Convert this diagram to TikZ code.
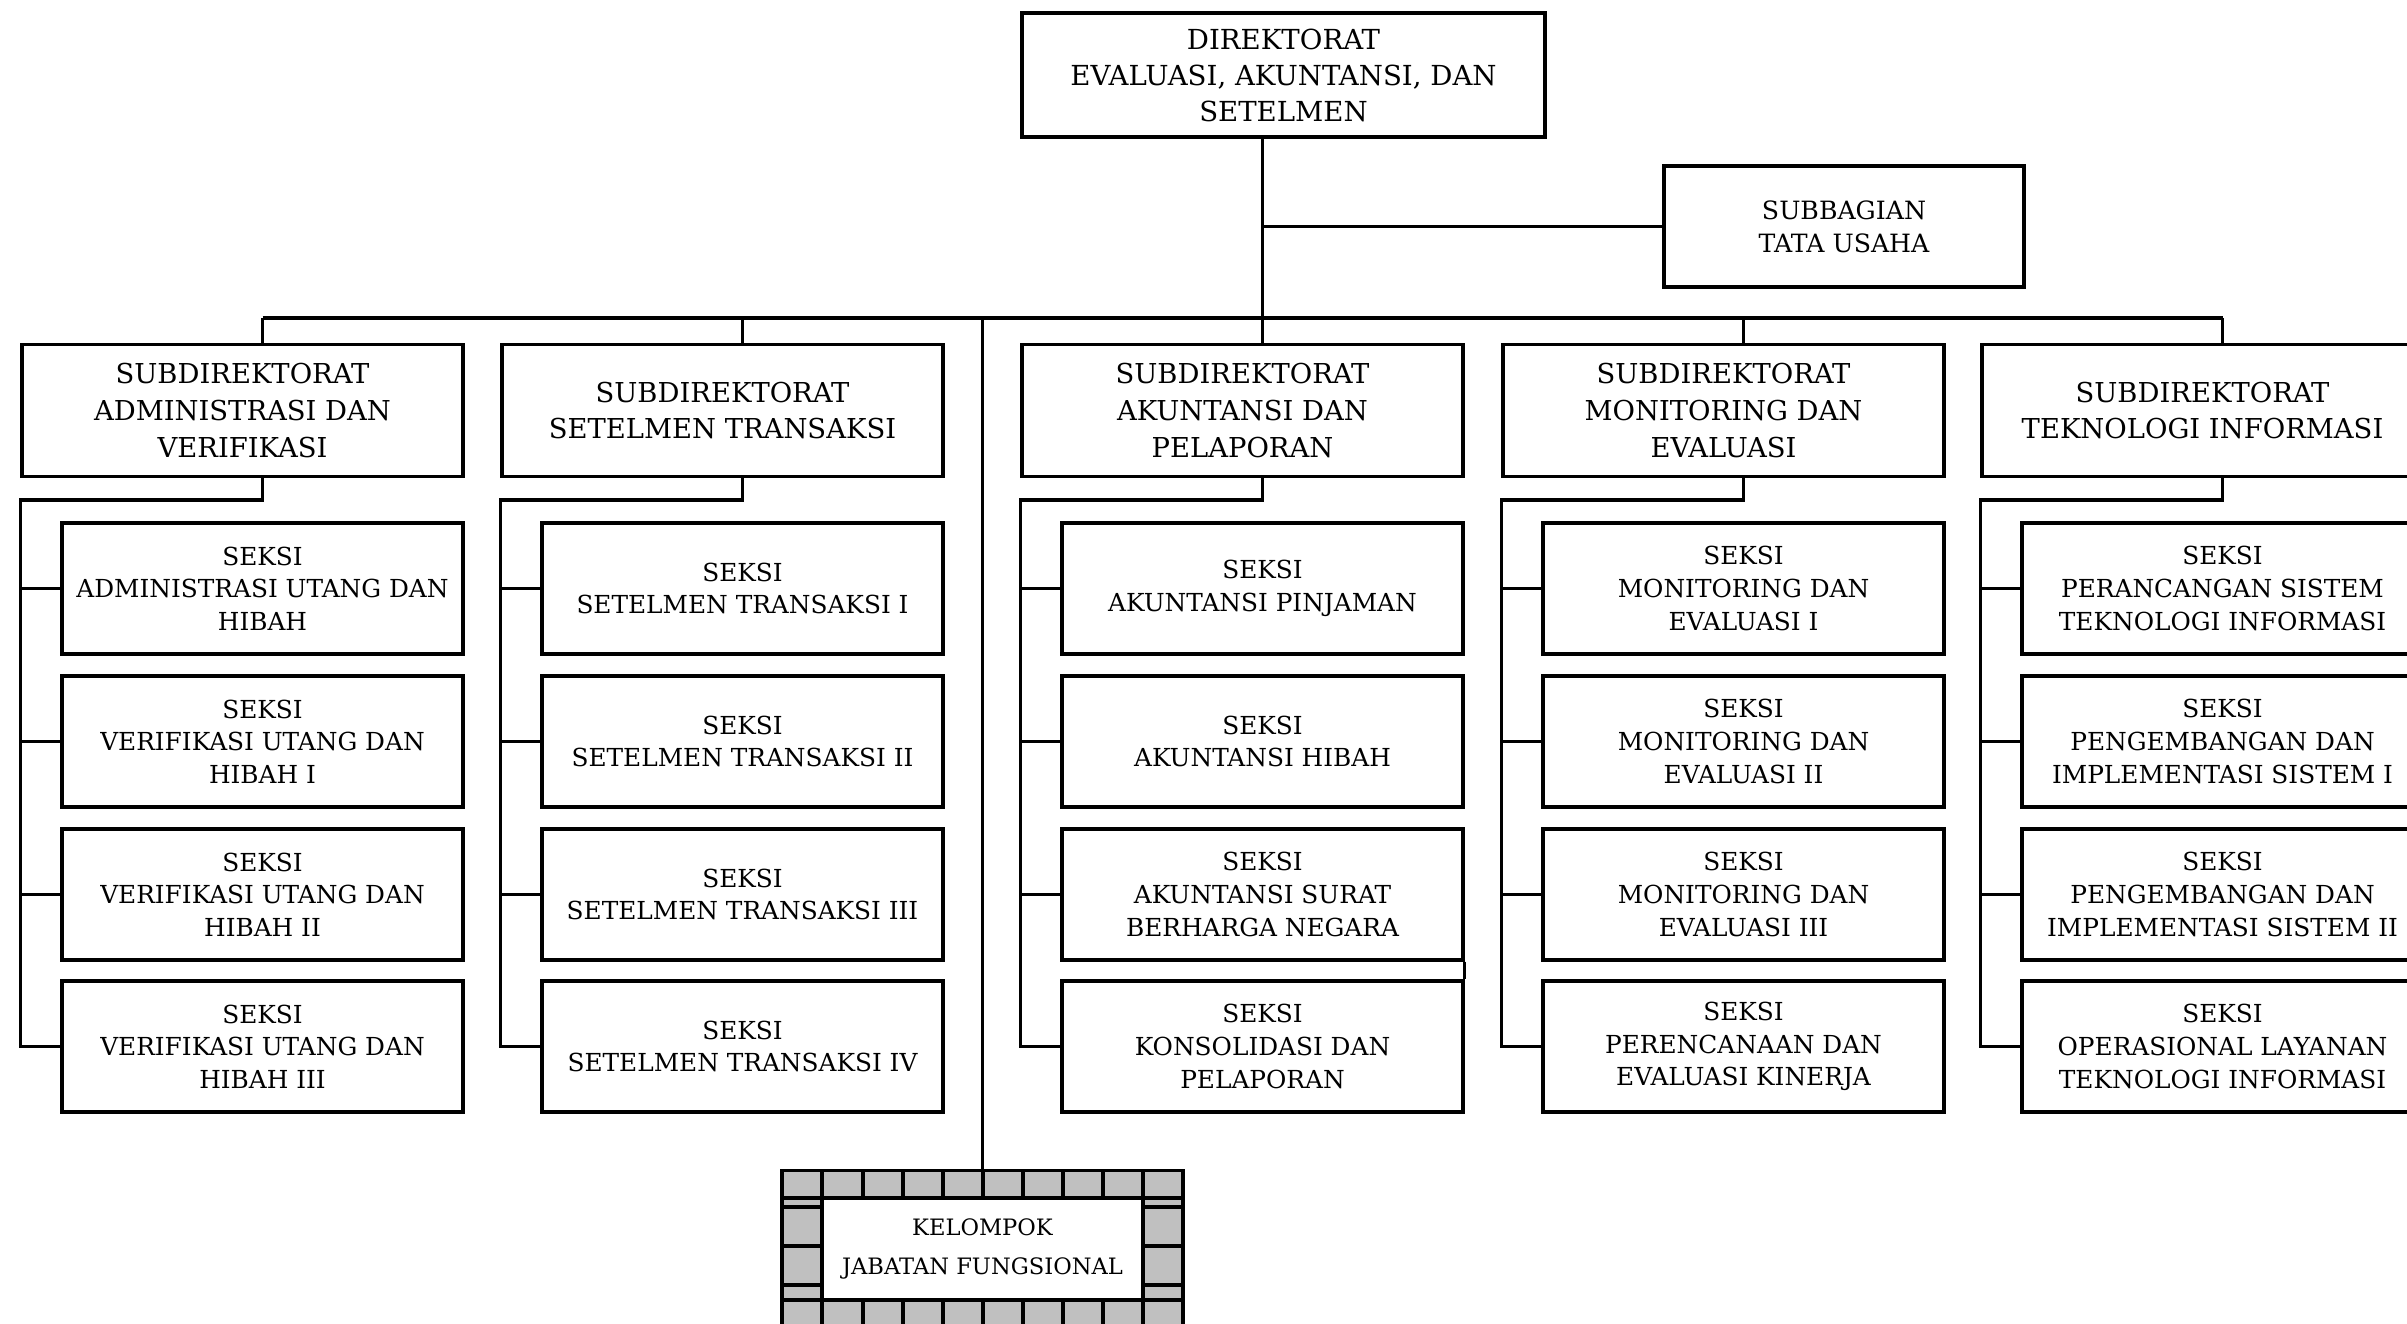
\documentclass[tikz,border=0pt]{standalone}
\usepackage{fontspec}
\setmainfont{DejaVu Serif}
\definecolor{tilegray}{RGB}{192,192,192}
\begin{document}
\begin{tikzpicture}[x=0.5pt,y=-0.5pt,
  ln/.style={line width=1.6pt},
  bx/.style={draw, line width=1.6pt, align=center, inner sep=0pt, fill=white},
  dirbox/.style={bx, minimum width=261.5pt, minimum height=62pt, font=\fontsize{13.8}{18}\selectfont},
  sbgbox/.style={bx, minimum width=180pt, minimum height=60.5pt, font=\fontsize{12.6}{16.5}\selectfont},
  subbox/.style={bx, minimum width=220.5pt, minimum height=66pt, font=\fontsize{13.7}{18.3}\selectfont},
  sekbox/.style={bx, minimum width=200.5pt, minimum height=65.5pt, font=\fontsize{12.4}{16.3}\selectfont},
  kjfbox/.style={bx, minimum width=160.5pt, minimum height=51pt, font=\fontsize{11.3}{19.5}\selectfont},
  frame/.style={draw, line width=1.6pt, fill=tilegray, minimum width=200.5pt, minimum height=95.5pt, inner sep=0pt}
]
\useasboundingbox (0,0) rectangle (2407,1323);
\clip (0,0) rectangle (2407,1323);

% top
\node[dirbox] (dir) at (1283.5,75) {DIREKTORAT\\EVALUASI, AKUNTANSI, DAN\\SETELMEN};
\node[sbgbox] (sbg) at (1844,226.5) {SUBBAGIAN\\TATA USAHA};
\coordinate (busy) at (0,318);
\coordinate (ty) at (0,500);

% subdirektorat
\node[subbox] (sd1) at (242.5,410.5) {SUBDIREKTORAT\\ADMINISTRASI DAN\\VERIFIKASI};
\node[subbox] (sd2) at (722.5,410.5) {SUBDIREKTORAT\\SETELMEN TRANSAKSI};
\node[subbox] (sd3) at (1242.5,410.5) {SUBDIREKTORAT\\AKUNTANSI DAN\\PELAPORAN};
\node[subbox] (sd4) at (1723.5,410.5) {SUBDIREKTORAT\\MONITORING DAN\\EVALUASI};
\node[subbox] (sd5) at (2202.5,410.5) {SUBDIREKTORAT\\TEKNOLOGI INFORMASI};

% seksi col 1
\node[sekbox] (k11) at (262.5,588.5) {SEKSI\\ADMINISTRASI UTANG DAN\\HIBAH};
\node[sekbox] (k12) at (262.5,741.5) {SEKSI\\VERIFIKASI UTANG DAN\\HIBAH I};
\node[sekbox] (k13) at (262.5,894.5) {SEKSI\\VERIFIKASI UTANG DAN\\HIBAH II};
\node[sekbox] (k14) at (262.5,1046.5) {SEKSI\\VERIFIKASI UTANG DAN\\HIBAH III};
% col 2
\node[sekbox] (k21) at (742.5,588.5) {SEKSI\\SETELMEN TRANSAKSI I};
\node[sekbox] (k22) at (742.5,741.5) {SEKSI\\SETELMEN TRANSAKSI II};
\node[sekbox] (k23) at (742.5,894.5) {SEKSI\\SETELMEN TRANSAKSI III};
\node[sekbox] (k24) at (742.5,1046.5) {SEKSI\\SETELMEN TRANSAKSI IV};
% col 3
\node[sekbox] (k31) at (1262.5,588.5) {SEKSI\\AKUNTANSI PINJAMAN};
\node[sekbox] (k32) at (1262.5,741.5) {SEKSI\\AKUNTANSI HIBAH};
\node[sekbox] (k33) at (1262.5,894.5) {SEKSI\\AKUNTANSI SURAT\\BERHARGA NEGARA};
\node[sekbox] (k34) at (1262.5,1046.5) {SEKSI\\KONSOLIDASI DAN\\PELAPORAN};
% col 4
\node[sekbox] (k41) at (1743.5,588.5) {SEKSI\\MONITORING DAN\\EVALUASI I};
\node[sekbox] (k42) at (1743.5,741.5) {SEKSI\\MONITORING DAN\\EVALUASI II};
\node[sekbox] (k43) at (1743.5,894.5) {SEKSI\\MONITORING DAN\\EVALUASI III};
\node[sekbox] (k44) at (1743.5,1046.5) {SEKSI\\PERENCANAAN DAN\\EVALUASI KINERJA};
% col 5
\node[sekbox] (k51) at (2222.5,588.5) {SEKSI\\PERANCANGAN SISTEM\\TEKNOLOGI INFORMASI};
\node[sekbox] (k52) at (2222.5,741.5) {SEKSI\\PENGEMBANGAN DAN\\IMPLEMENTASI SISTEM I};
\node[sekbox] (k53) at (2222.5,894.5) {SEKSI\\PENGEMBANGAN DAN\\IMPLEMENTASI SISTEM II};
\node[sekbox] (k54) at (2222.5,1046.5) {SEKSI\\OPERASIONAL LAYANAN\\TEKNOLOGI INFORMASI};

% kelompok jabatan fungsional
\node[frame, anchor=north] (kframe) at (982.5,1169) {};
\foreach \x in {822,863,903,943,983,1023,1063,1103,1143} {
  \draw[ln] (\x,1169) -- (\x,1198);
  \draw[ln] (\x,1300) -- (\x,1360);
}
\foreach \y in {1207,1246,1285} {
  \draw[ln] (782,\y) -- (822,\y);
  \draw[ln] (1143,\y) -- (1183,\y);
}
\draw[ln] (782,1198) -- (1183,1198);
\draw[ln] (782,1300) -- (1183,1300);
\node[kjfbox] (kjf) at (982.5,1249) {KELOMPOK\\JABATAN FUNGSIONAL};

% connectors
\draw[ln] (dir.south -| k31) -- (sd3.north -| k31);
\draw[ln] (sbg.west -| k31) -- (sbg.west);
\draw[ln] (k11 |- busy) -- (k51 |- busy);
\foreach \c in {1,2,4,5} {
  \draw[ln] (k\c1 |- busy) -- (sd\c.north -| k\c1);
}
\draw[ln] (kframe.north |- busy) -- (kframe.north);
\foreach \c in {1,...,5} {
  \draw[ln] (sd\c.south -| k\c1) -- (k\c1 |- ty) -- (sd\c.west |- ty) -- (sd\c.west |- k\c4) -- (k\c4.west);
  \foreach \r in {1,2,3} {
    \draw[ln] (sd\c.west |- k\c\r) -- (k\c\r.west);
  }
}
\draw[ln] (k33.south east) -- (k34.north east);
\end{tikzpicture}
\end{document}
